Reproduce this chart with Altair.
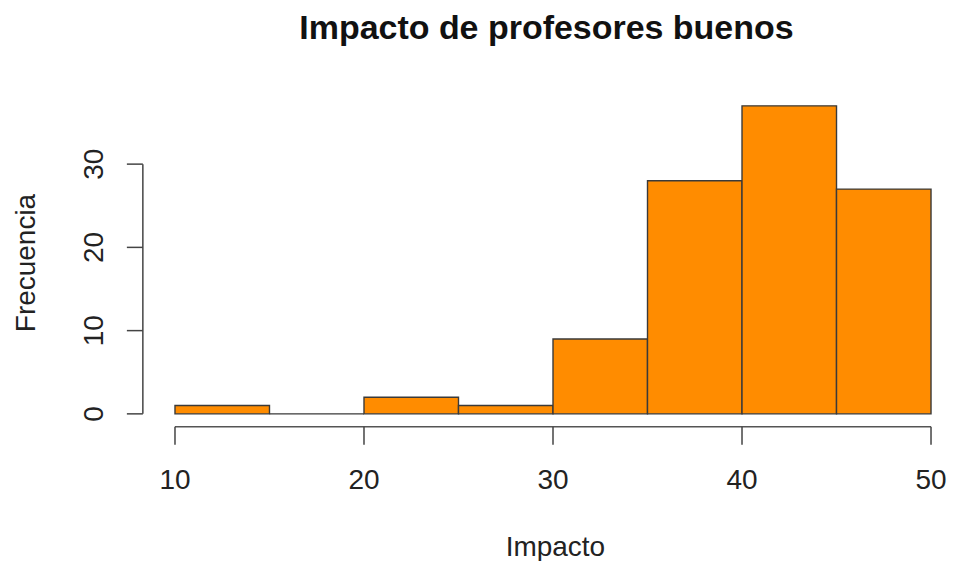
import altair as alt
import pandas as pd

bin_start = [10, 15, 20, 25, 30, 35, 40, 45]
bin_end = [15, 20, 25, 30, 35, 40, 45, 50]
counts = [1, 0, 2, 1, 9, 28, 37, 27]
x_ticks = [10, 20, 30, 40, 50]
y_ticks = [0, 10, 20, 30]
title_text = "Impacto de profesores buenos"
x_title = "Impacto"
y_title = "Frecuencia"

FONT = "Liberation Sans"
W, H = 789, 337
xs = alt.Scale(domain=[8.3, 50.0], nice=False, zero=False)
ys = alt.Scale(domain=[-1.56, 38.88], nice=False, zero=False)

bars_df = pd.DataFrame({"a": bin_start, "b": bin_end, "n": counts})
xt_df = pd.DataFrame({"v": x_ticks, "lab": [str(v) for v in x_ticks]})
yt_df = pd.DataFrame({"v": y_ticks, "lab": [str(v) for v in y_ticks]})

bars = alt.Chart(bars_df).mark_rect(
    fill="#FF8C00", stroke="#3a3a3a", strokeWidth=1.4
).encode(
    x=alt.X("a:Q", scale=xs, axis=None),
    x2="b:Q",
    y=alt.Y("n:Q", scale=ys, axis=None),
    y2=alt.datum(0),
)

# y axis
y_line = alt.Chart(pd.DataFrame({"a": [0], "b": [30]})).mark_rule(
    color="#444", strokeWidth=1.5
).encode(
    x=alt.value(0),
    y=alt.Y("a:Q", scale=ys, axis=None),
    y2="b:Q",
)
y_tick = alt.Chart(yt_df).mark_rule(color="#444", strokeWidth=1.5).encode(
    x=alt.value(-16), x2=alt.value(0),
    y=alt.Y("v:Q", scale=ys, axis=None),
)
y_lab = alt.Chart(yt_df).mark_text(
    angle=270, font=FONT, fontSize=28, color="#222", baseline="alphabetic", align="center"
).encode(
    x=alt.value(-40),
    y=alt.Y("v:Q", scale=ys, axis=None),
    text="lab:N",
)

# x axis
x_line = alt.Chart(pd.DataFrame({"a": [10], "b": [50]})).mark_rule(
    color="#555", strokeWidth=1.5
).encode(
    y=alt.value(H),
    x=alt.X("a:Q", scale=xs, axis=None),
    x2="b:Q",
)
x_tick = alt.Chart(xt_df).mark_rule(color="#444", strokeWidth=1.5).encode(
    y=alt.value(H), y2=alt.value(H + 18),
    x=alt.X("v:Q", scale=xs, axis=None),
)
x_lab = alt.Chart(xt_df).mark_text(
    font=FONT, fontSize=28, color="#222", baseline="alphabetic", align="center"
).encode(
    y=alt.value(399),
    x=alt.X("v:Q", scale=xs, axis=None),
    text="lab:N",
)

# titles
t_main = alt.Chart(pd.DataFrame({"t": [title_text]})).mark_text(
    font=FONT, fontSize=34, fontWeight="bold", color="#111", baseline="alphabetic", align="center"
).encode(x=alt.value(404), y=alt.value(-51), text="t:N")
t_x = alt.Chart(pd.DataFrame({"t": [x_title]})).mark_text(
    font=FONT, fontSize=28, color="#222", baseline="alphabetic", align="center"
).encode(x=alt.value(413), y=alt.value(466), text="t:N")
t_y = alt.Chart(pd.DataFrame({"t": [y_title]})).mark_text(
    font=FONT, fontSize=28, color="#222", baseline="alphabetic", align="center", angle=270
).encode(x=alt.value(-108), y=alt.value(173), text="t:N")

chart = alt.layer(
    bars, y_line, y_tick, y_lab, x_line, x_tick, x_lab, t_main, t_x, t_y
).properties(
    width=W, height=H,
    autosize=alt.AutoSizeParams(type="none"),
    padding={"left": 135, "top": 82, "right": 16, "bottom": 134},
).configure_view(stroke=None)

chart.save("out.html", embed_options={"renderer": "svg", "actions": False})
